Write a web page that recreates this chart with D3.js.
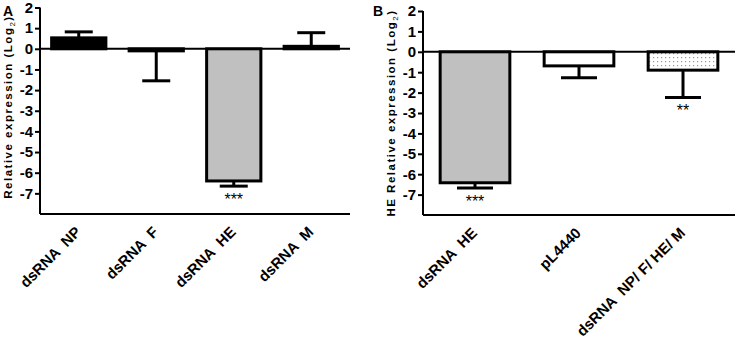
<!DOCTYPE html>
<html>
<head>
<meta charset="utf-8">
<script src="https://cdn.jsdelivr.net/npm/d3@7"></script>
<style>
  body { margin: 0; background: #fff; }
  text { font-family: "Liberation Sans", Arial, sans-serif; font-weight: bold; }
</style>
</head>
<body>
<svg id="chart" width="737" height="339"></svg>
<script>
// Panel A data
const catsA = ['dsRNA  NP', 'dsRNA  F', 'dsRNA  HE', 'dsRNA  M'];
const meanA = [0.53, -0.1, -6.4, 0.12];
const errA = [0.82, -1.55, -6.65, 0.78];
const fillA = ['#000000', '#ffffff', '#c0c0c0', '#ffffff'];
const starsA = ['', '', '***', ''];

// Panel B data
const catsB = ['dsRNA  HE', 'pL4440', 'dsRNA  NP/ F/ HE/ M'];
const meanB = [-6.42, -0.69, -0.9];
const errB = [-6.68, -1.27, -2.24];
const fillB = ['#c0c0c0', '#ffffff', 'url(#dots)'];
const starsB = ['***', '', '**'];

const yTicks = [2, 1, 0, -1, -2, -3, -4, -5, -6, -7];

const svg = d3.select('#chart');

// dotted fill
const pat = svg.append('defs').append('pattern')
    .attr('id', 'dots')
    .attr('width', 4).attr('height', 4)
    .attr('patternUnits', 'userSpaceOnUse');
pat.append('rect').attr('width', 4).attr('height', 4).attr('fill', '#fff');
pat.append('rect').attr('x', 1).attr('y', 1).attr('width', 1.2).attr('height', 1.2).attr('fill', '#999');

function drawPanel(opts) {
    const g = svg.append('g');
    const x = d3.scaleBand()
        .domain(opts.cats)
        .range([opts.left, opts.right])
        .paddingInner(opts.pad)
        .paddingOuter(opts.pad / 2);
    const y = d3.scaleLinear()
        .domain([-8, 2])
        .range([opts.bottom, opts.top]);

    // y axis
    const yAxis = g.append('g')
        .attr('transform', `translate(${opts.left},0)`)
        .call(d3.axisLeft(y).tickValues(yTicks).tickSize(5).tickPadding(2).tickFormat(d3.format('d')));
    yAxis.select('.domain').attr('d', `M0,${y(2)}V${opts.bottom}`).attr('stroke-width', 2);
    yAxis.selectAll('.tick line').attr('stroke-width', 2);
    yAxis.selectAll('.tick text')
        .style('font-size', '15px')
        .attr('fill', '#000')
        .text(d => d < 0 ? '-' + Math.abs(d) : d);

    // bottom axis line
    g.append('line')
        .attr('x1', opts.left).attr('x2', opts.right)
        .attr('y1', opts.bottom).attr('y2', opts.bottom)
        .attr('stroke', '#000').attr('stroke-width', 2);

    // error bars
    const capW = opts.cap;
    opts.cats.forEach((c, i) => {
        const cx = x(c) + x.bandwidth() / 2;
        g.append('line')
            .attr('x1', cx).attr('x2', cx)
            .attr('y1', y(opts.mean[i])).attr('y2', y(opts.err[i]))
            .attr('stroke', '#000').attr('stroke-width', 3);
        g.append('line')
            .attr('x1', cx - capW / 2).attr('x2', cx + capW / 2)
            .attr('y1', y(opts.err[i])).attr('y2', y(opts.err[i]))
            .attr('stroke', '#000').attr('stroke-width', 3);
    });

    // bars
    g.selectAll('.bar')
        .data(opts.cats)
        .enter()
        .append('rect')
        .attr('class', 'bar')
        .attr('x', d => x(d))
        .attr('width', x.bandwidth())
        .attr('y', (d, i) => Math.min(y(0), y(opts.mean[i])))
        .attr('height', (d, i) => Math.max(Math.abs(y(opts.mean[i]) - y(0)), 1))
        .attr('fill', (d, i) => opts.fill[i])
        .attr('stroke', '#000')
        .attr('stroke-width', 3);

    // zero line
    g.append('line')
        .attr('x1', opts.left).attr('x2', opts.right)
        .attr('y1', y(0)).attr('y2', y(0))
        .attr('stroke', '#000').attr('stroke-width', 2);

    // significance stars
    opts.cats.forEach((c, i) => {
        if (!opts.stars[i]) return;
        g.append('text')
            .attr('x', x(c) + x.bandwidth() / 2)
            .attr('y', y(opts.err[i]) + 19)
            .attr('text-anchor', 'middle')
            .style('font-size', '16px')
            .style('font-weight', 'normal')
            .text(opts.stars[i]);
    });

    // x labels
    opts.cats.forEach(c => {
        const cx = x(c) + x.bandwidth() / 2;
        g.append('text')
            .attr('transform', `translate(${cx + 3},${opts.bottom + 19}) rotate(-45)`)
            .attr('text-anchor', 'end')
            .style('font-size', '15px')
            .style('white-space', 'pre')
            .attr('xml:space', 'preserve')
            .text(c);
    });

    // y label
    const yl = g.append('text')
        .attr('transform', `translate(${opts.ylx},${opts.ylc}) rotate(-90)`)
        .attr('text-anchor', 'middle')
        .style('font-size', '11.5px')
        .style('letter-spacing', '1.5px');
    yl.append('tspan').text(opts.ylabel);
    yl.append('tspan').text('(Log');
    yl.append('tspan').attr('dy', 3).style('font-size', '8px').style('font-weight', 'normal').text('2');
    yl.append('tspan').attr('dy', -3).text(')');

    // panel letter
    g.append('text')
        .attr('x', opts.letterX).attr('y', 16)
        .style('font-size', '14px')
        .text(opts.letter);
}

drawPanel({
    cats: catsA, mean: meanA, err: errA, fill: fillA, stars: starsA,
    left: 40, right: 350, top: 7.5, bottom: 214, pad: 0.3, cap: 28,
    ylabel: 'Relative expression ', ylx: 12, ylc: 107, letter: 'A', letterX: 3
});

drawPanel({
    cats: catsB, mean: meanB, err: errB, fill: fillB, stars: starsB,
    left: 423, right: 735, top: 11, bottom: 215, pad: 0.33, cap: 36,
    ylabel: 'HE Relative expression ', ylx: 395, ylc: 113, letter: 'B', letterX: 373
});
</script>
</body>
</html>
